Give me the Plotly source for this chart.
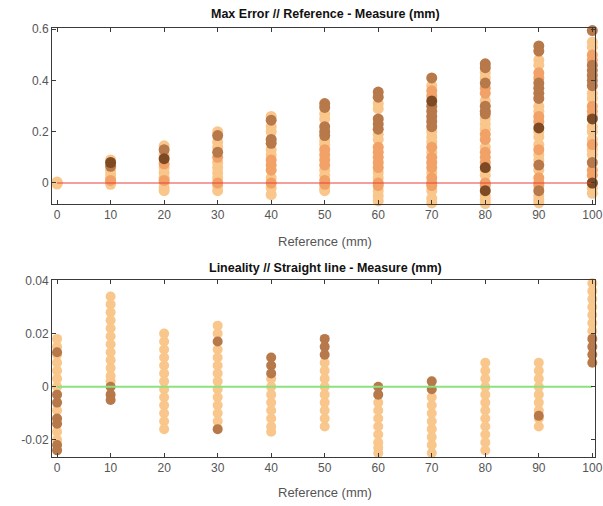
import plotly.graph_objects as go

refs = [0, 10, 20, 30, 40, 50, 60, 70, 80, 90, 100]

# ---- Max Error (top) : y values per reference, grouped by colour ----
max_light = [
    [0.0, 0.004, -0.004],
    [0.09, 0.05, 0.035, 0.02, 0.005, -0.005],
    [0.145, 0.11, 0.06, 0.04, 0.02, 0.0, -0.02, -0.03],
    [0.2, 0.16, 0.14, 0.08, 0.06, 0.04, 0.02, -0.01, -0.03],
    [0.26, 0.22, 0.2, 0.13, 0.11, 0.02, -0.02, -0.045],
    [0.27, 0.25, 0.165, 0.15, 0.05, 0.03, -0.02, -0.03],
    [0.31, 0.29, 0.19, 0.17, 0.04, 0.02, -0.03, -0.05, -0.07],
    [0.38, 0.2, 0.18, 0.16, 0.12, 0.04, -0.03, -0.06, -0.078],
    [0.43, 0.41, 0.32, 0.25, 0.23, 0.21, 0.14, 0.05, 0.03, -0.05, -0.065, -0.08],
    [0.48, 0.46, 0.3, 0.28, 0.2, 0.18, 0.15, 0.11, 0.09, 0.05, -0.05, -0.065, -0.078],
    [0.55, 0.53, 0.35, 0.33, 0.22, 0.2, 0.17, 0.13, 0.11, -0.02, -0.04],
]
max_orange = [
    [],
    [0.01],
    [0.075, 0.01],
    [0.1, 0.0],
    [0.09, 0.07, 0.05, 0.0],
    [0.13, 0.11, 0.09, 0.07, 0.01, -0.005],
    [0.14, 0.12, 0.1, 0.08, 0.06, 0.0, -0.01],
    [0.36, 0.34, 0.14, 0.1, 0.08, 0.06, 0.02, 0.0, -0.01],
    [0.37, 0.35, 0.19, 0.17, 0.12, 0.1, 0.08, 0.0, -0.01],
    [0.43, 0.41, 0.26, 0.24, 0.13, 0.02, 0.0, -0.01],
    [0.5, 0.48, 0.3, 0.28, 0.26, 0.15, 0.05, 0.03, 0.0],
]
max_brown = [
    [],
    [0.065],
    [0.13],
    [0.185, 0.12],
    [0.245, 0.17, 0.155],
    [0.31, 0.295, 0.22, 0.2, 0.185],
    [0.355, 0.335, 0.25, 0.23, 0.21],
    [0.41, 0.3, 0.28, 0.26, 0.24, 0.22],
    [0.465, 0.45, 0.39, 0.3, 0.28, 0.27],
    [0.535, 0.515, 0.39, 0.37, 0.35, 0.33, 0.07, -0.03],
    [0.615, 0.595, 0.46, 0.44, 0.42, 0.4, 0.38, 0.08],
]
max_dark = [
    [], [0.08], [0.095], [], [], [], [], [0.32], [0.06, -0.03], [0.215], [0.25, 0.0],
]

# ---- Lineality (bottom) ----
lin_light = [
    [0.018, 0.015, 0.012, 0.009, 0.006, 0.003, 0.0, -0.009, -0.017, -0.02],
    [0.034, 0.031, 0.028, 0.025, 0.022, 0.019, 0.016, 0.013, 0.01, 0.007, 0.004, 0.002],
    [0.02, 0.017, 0.014, 0.011, 0.008, 0.005, 0.002, -0.001, -0.004, -0.007, -0.01, -0.013, -0.016],
    [0.023, 0.02, 0.014, 0.011, 0.008, 0.005, 0.002, -0.001, -0.004, -0.007, -0.01, -0.013],
    [0.003, 0.0, -0.003, -0.006, -0.009, -0.012, -0.015, -0.017],
    [0.009, 0.006, 0.003, 0.0, -0.003, -0.006, -0.009, -0.012, -0.015],
    [-0.006, -0.009, -0.012, -0.015, -0.018, -0.021, -0.023, -0.025],
    [-0.004, -0.007, -0.01, -0.013, -0.016, -0.019, -0.022, -0.025],
    [0.009, 0.006, 0.003, 0.0, -0.003, -0.006, -0.009, -0.012, -0.015, -0.018, -0.021, -0.024],
    [0.009, 0.006, 0.003, 0.0, -0.003, -0.006, -0.009, -0.012, -0.015],
    [0.039, 0.036, 0.033, 0.03, 0.027, 0.024, 0.021],
]
lin_brown = [
    [0.013, -0.003, -0.006, -0.012, -0.014, -0.022, -0.024],
    [0.0, -0.003, -0.005],
    [],
    [0.017, -0.016],
    [0.011, 0.008, 0.005],
    [0.018, 0.015, 0.012],
    [0.0, -0.003],
    [0.002, -0.001],
    [],
    [-0.011],
    [0.018, 0.015, 0.012, 0.009],
]

colors = {"light": "#F9C68B", "orange": "#F2A267", "brown": "#B7784A", "dark": "#7E4A24"}


def flatten(groups):
    xs, ys = [], []
    for r, vals in zip(refs, groups):
        xs += [r] * len(vals)
        ys += vals
    return xs, ys


fig = go.Figure()

for groups, col in [(max_light, "light"), (max_orange, "orange"),
                    (max_brown, "brown"), (max_dark, "dark")]:
    xs, ys = flatten(groups)
    fig.add_trace(go.Scatter(x=xs, y=ys, mode="markers", xaxis="x", yaxis="y", cliponaxis=False,
                             marker=dict(color=colors[col], size=11, line=dict(width=0)),
                             showlegend=False, hoverinfo="skip"))
fig.add_trace(go.Scatter(x=[0, 100], y=[0, 0], mode="lines", xaxis="x", yaxis="y",
                         line=dict(color="#E8403A", width=1.2), showlegend=False))

for groups, col in [(lin_light, "light"), (lin_brown, "brown")]:
    xs, ys = flatten(groups)
    fig.add_trace(go.Scatter(x=xs, y=ys, mode="markers", xaxis="x2", yaxis="y2", cliponaxis=False,
                             marker=dict(color=colors[col], size=10, line=dict(width=0)),
                             showlegend=False, hoverinfo="skip"))
fig.add_trace(go.Scatter(x=[0, 100], y=[0, 0], mode="lines", xaxis="x2", yaxis="y2",
                         line=dict(color="#8BE27E", width=2), showlegend=False))

axis_common = dict(showline=True, linecolor="#3a3a3a", linewidth=1, mirror="ticks",
                   ticks="inside", ticklen=4, tickcolor="#3a3a3a", showgrid=False,
                   zeroline=False, automargin=False,
                   tickfont=dict(family="Liberation Sans, Arial", size=12, color="#555555"))

xdom = [52 / 603, 595 / 603]
fig.update_layout(
    template="none",
    width=603, height=506, margin=dict(l=0, r=0, t=0, b=0, pad=0),
    paper_bgcolor="white", plot_bgcolor="white",
    xaxis=dict(domain=xdom, range=[-0.95, 100.5], tickvals=refs, anchor="y", **axis_common),
    yaxis=dict(domain=[302 / 506, 478 / 506], range=[-0.082, 0.605],
               tickvals=[0, 0.2, 0.4, 0.6], ticktext=["0", "0.2", "0.4", "0.6"], anchor="x", **axis_common),
    xaxis2=dict(domain=xdom, range=[-0.95, 100.5], tickvals=refs, anchor="y2", **axis_common),
    yaxis2=dict(domain=[49 / 506, 226 / 506], range=[-0.0265, 0.0402],
                tickvals=[-0.02, 0, 0.02, 0.04], ticktext=["-0.02", "0", "0.02", "0.04"], anchor="x2", **axis_common),
)

title_font = dict(family="Liberation Sans, Arial", size=12.5, color="#111111")
label_font = dict(family="Liberation Sans, Arial", size=13, color="#555555")
ann = [
    dict(text="<b>Max Error // Reference - Measure (mm)</b>", x=325, y=14, font=title_font),
    dict(text="Reference (mm)", x=325, y=241, font=label_font),
    dict(text="<b>Lineality // Straight line - Measure (mm)</b>", x=325, y=268, font=title_font),
    dict(text="Reference (mm)", x=325, y=492, font=label_font),
]
for a in ann:
    fig.add_annotation(text=a["text"], x=a["x"] / 603, y=1 - a["y"] / 506, xref="paper", yref="paper",
                       showarrow=False, xanchor="center", yanchor="middle", font=a["font"])

fig.write_html("out.html", config={"displayModeBar": False},
               post_script="document.body.style.margin='0';document.body.style.overflow='hidden';")
